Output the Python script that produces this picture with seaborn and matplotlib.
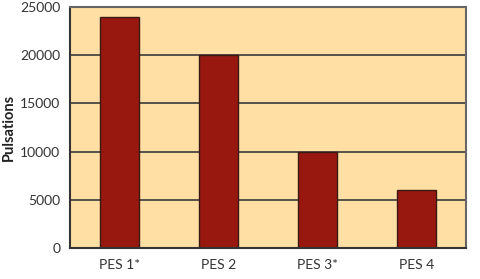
import matplotlib
matplotlib.use("Agg")
import matplotlib.pyplot as plt
import seaborn as sns
import pandas as pd

categories = ["PES 1*", "PES 2", "PES 3*", "PES 4"]
values = [24000, 20000, 10000, 6000]
yticks = [0, 5000, 10000, 15000, 20000, 25000]

sns.set_style("white")
plt.rcParams['font.family'] = ['Lato', 'DejaVu Sans']

df = pd.DataFrame({"cat": categories, "val": values})
fig = plt.figure(figsize=(4.8, 2.79), dpi=100)
ax = fig.add_axes([0.146, 0.111, 0.825, 0.864])
ax.set_facecolor("#FFDFA3")
ax.set_axisbelow(True)
ax.yaxis.grid(True, color="#3a3a3a", linewidth=1.2)
sns.barplot(data=df, x="cat", y="val", color="#981810", width=0.4,
            edgecolor="#3a1a10", linewidth=1.0, saturation=1, ax=ax)
ax.set_ylim(0, 25000)
ax.set_xlim(-0.5, 3.5)
ax.set_yticks(yticks)
ax.set_yticklabels([str(t) for t in yticks], fontsize=10, color="#333333")
ax.set_xticks([0.5, 1.5, 2.5, 3.5], minor=False)
ax.set_xticklabels([])
ax.set_xticks(range(4), minor=True)
ax.set_xticklabels(categories, minor=True, fontsize=10, color="#333333")
ax.tick_params(axis="x", which="minor", length=0, pad=8)
ax.tick_params(axis="x", which="major", length=5, width=1.2, color="#333333", direction="out")
ax.tick_params(axis="y", length=5, width=1.2, color="#333333", direction="out", pad=2)
ax.set_xlabel("")
ax.set_ylabel("Pulsations", fontsize=10.5, fontweight="bold", color="#222222")
ax.yaxis.set_label_coords(-0.138, 0.5)
for s in ["left", "bottom"]:
    ax.spines[s].set_color("#333333")
    ax.spines[s].set_linewidth(1.5)
for s in ["top", "right"]:
    ax.spines[s].set_color("#666666")
    ax.spines[s].set_linewidth(1.5)
fig.savefig("out.png", dpi=100)
